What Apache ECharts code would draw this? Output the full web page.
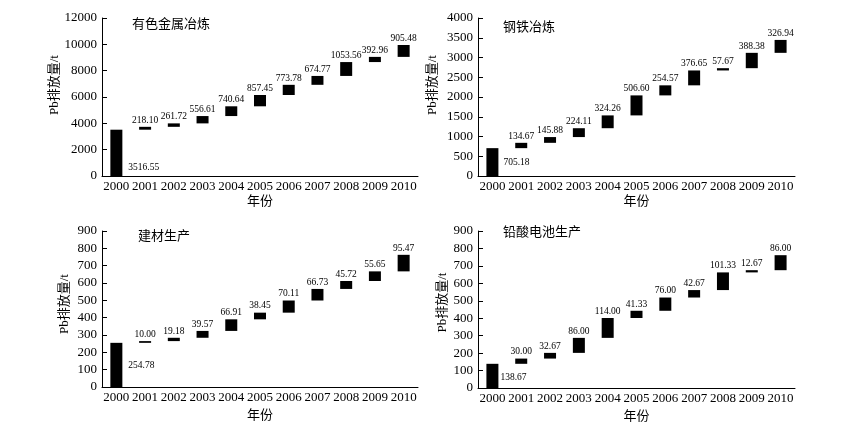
<!DOCTYPE html>
<html>
<head>
<meta charset="utf-8">
<script src="https://cdn.jsdelivr.net/npm/echarts@6/dist/echarts.min.js"></script>
<style>
html,body{margin:0;padding:0;background:#fff;}
#chart{width:862px;height:432px;}
</style>
</head>
<body>
<div id="chart"></div>
<script>
const years = ['2000','2001','2002','2003','2004','2005','2006','2007','2008','2009','2010'];

const nonferrousTitle = '有色金属冶炼';
const nonferrousValues = [3516.55, 218.10, 261.72, 556.61, 740.64, 857.45, 773.78, 674.77, 1053.56, 392.96, 905.48];
const nonferrousTicks = [0, 2000, 4000, 6000, 8000, 10000, 12000];

const steelTitle = '钢铁冶炼';
const steelValues = [705.18, 134.67, 145.88, 224.11, 324.26, 506.60, 254.57, 376.65, 57.67, 388.38, 326.94];
const steelTicks = [0, 500, 1000, 1500, 2000, 2500, 3000, 3500, 4000];

const buildingTitle = '建材生产';
const buildingValues = [254.78, 10.00, 19.18, 39.57, 66.91, 38.45, 70.11, 66.73, 45.72, 55.65, 95.47];
const buildingTicks = [0, 100, 200, 300, 400, 500, 600, 700, 800, 900];

const batteryTitle = '铅酸电池生产';
const batteryValues = [138.67, 30.00, 32.67, 86.00, 114.00, 41.33, 76.00, 42.67, 101.33, 12.67, 86.00];
const batteryTicks = [0, 100, 200, 300, 400, 500, 600, 700, 800, 900];

const yName = 'Pb排放量/t';
const xName = '年份';

const FONT = '"Liberation Serif", "Noto Sans CJK SC", serif';

const panels = [
  {title: nonferrousTitle, values: nonferrousValues, ticks: nonferrousTicks,
   grid: {left: 102, top: 18, width: 316, height: 158}, titlePos: {left: 132, top: 18},
   yNameGap: 38, yNameShift: 24, xNameGap: 19, firstOffset: [0, 15], firstDist: 6},
  {title: steelTitle, values: steelValues, ticks: steelTicks,
   grid: {left: 478, top: 18, width: 317, height: 158}, titlePos: {left: 503, top: 21},
   yNameGap: 39, yNameShift: 24, xNameGap: 19, firstOffset: [0, 0], firstDist: 5},
  {title: buildingTitle, values: buildingValues, ticks: buildingTicks,
   grid: {left: 102, top: 231, width: 316, height: 156}, titlePos: {left: 138, top: 230},
   yNameGap: 31, yNameShift: 10, xNameGap: 22, firstOffset: [0, 1], firstDist: 6},
  {title: batteryTitle, values: batteryValues, ticks: batteryTicks,
   grid: {left: 478, top: 231, width: 317, height: 157}, titlePos: {left: 503, top: 226},
   yNameGap: 29, yNameShift: 14, xNameGap: 22, firstOffset: [0, 2], firstDist: 2}
];

const option = {
  backgroundColor: '#fff',
  animation: false,
  title: [], grid: [], xAxis: [], yAxis: [], series: []
};

panels.forEach((p, i) => {
  option.title.push({
    text: p.title, left: p.titlePos.left, top: p.titlePos.top, padding: 0,
    textStyle: {fontSize: 13, fontWeight: 'normal', color: '#000', fontFamily: FONT}
  });
  option.grid.push(Object.assign({containLabel: false}, p.grid));
  option.xAxis.push({
    type: 'category', gridIndex: i, data: years,
    name: xName, nameLocation: 'middle', nameGap: p.xNameGap,
    nameTextStyle: {fontSize: 13, color: '#000', fontFamily: FONT},
    axisLine: {lineStyle: {color: '#000', width: 1}},
    axisTick: {inside: true, length: 5, alignWithLabel: true, lineStyle: {color: '#000'}},
    axisLabel: {fontSize: 13, color: '#000', fontFamily: FONT, margin: 4, interval: 0},
    splitLine: {show: false}
  });
  const t = p.ticks;
  option.yAxis.push({
    type: 'value', gridIndex: i, min: t[0], max: t[t.length - 1], interval: t[1] - t[0],
    name: yName, nameLocation: 'middle', nameGap: p.yNameGap, nameRotate: 90,
    nameTextStyle: {fontSize: 13, color: '#000', fontFamily: FONT, padding: [0, 0, 0, p.yNameShift]},
    axisLine: {show: true, lineStyle: {color: '#000', width: 1}},
    axisTick: {show: true, inside: true, length: 5, lineStyle: {color: '#000'}},
    axisLabel: {fontSize: 13, color: '#000', fontFamily: FONT, margin: 5,
                formatter: (v) => String(v)},
    splitLine: {show: false}
  });
  // waterfall: invisible base = cumulative of previous values
  const bases = [];
  let acc = 0;
  p.values.forEach((v, k) => { bases.push(k === 0 ? 0 : acc); acc += v; });
  option.series.push({
    type: 'bar', xAxisIndex: i, yAxisIndex: i, stack: 'w' + i, barWidth: 12,
    itemStyle: {color: 'transparent'}, silent: true, data: bases
  });
  option.series.push({
    type: 'bar', xAxisIndex: i, yAxisIndex: i, stack: 'w' + i, barWidth: 12,
    itemStyle: {color: '#000'},
    label: {show: true, position: 'top', distance: 2, fontSize: 9.5, color: '#000', fontFamily: FONT,
            formatter: (d) => d.value.toFixed(2)},
    data: p.values.map((v, k) => k === 0
      ? {value: v, label: {position: 'right', distance: p.firstDist, offset: p.firstOffset}}
      : v)
  });
});

const chart = echarts.init(document.getElementById('chart'), null, {renderer: 'canvas'});
chart.setOption(option);
</script>
</body>
</html>
